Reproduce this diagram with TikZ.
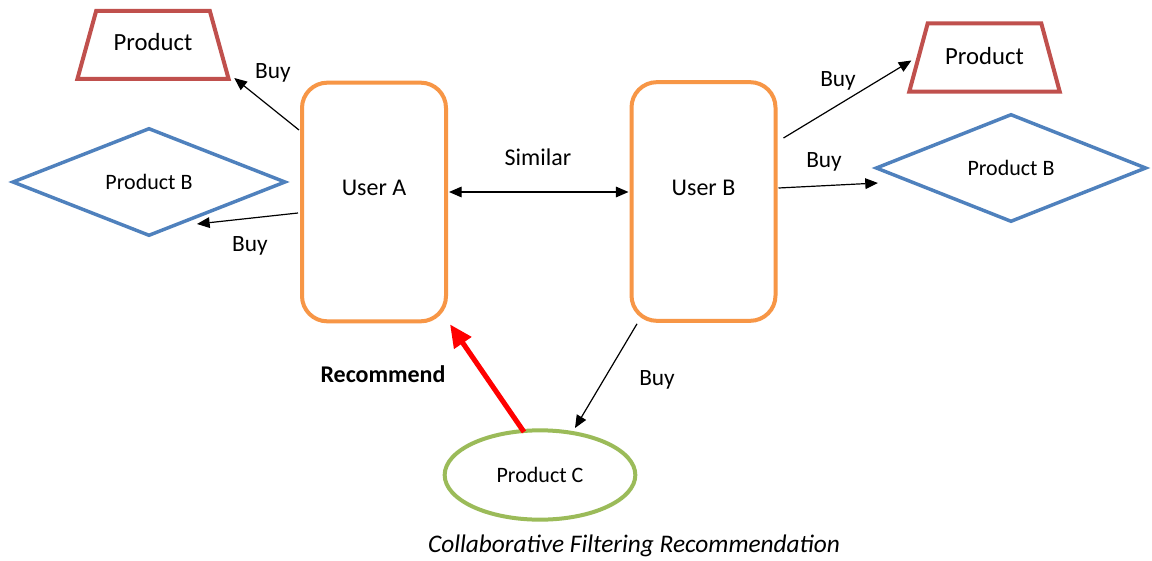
\documentclass[tikz,border=0pt]{standalone}
\usepackage{fontspec}
\setmainfont{Carlito}
\usetikzlibrary{shapes.geometric,arrows.meta,calc}
\definecolor{prodred}{HTML}{C0504D}
\definecolor{prodblue}{HTML}{4F81BD}
\definecolor{userorange}{HTML}{F79646}
\definecolor{prodgreen}{HTML}{9BBB59}
\begin{document}
\begin{tikzpicture}[x=0.75pt,y=-0.75pt,
  userbox/.style={draw=userorange, line width=3pt, rounded corners=19pt,
    minimum width=108pt, minimum height=179pt, inner sep=0pt, text depth=21pt,
    font=\fontsize{18}{21}\selectfont},
  trapbox/.style={trapezium, draw=prodred, line width=3pt, trapezium stretches=true,
    inner sep=0pt, font=\fontsize{18.5}{21}\selectfont},
  diabox/.style={diamond, draw=prodblue, line width=2.6pt, inner sep=0pt,
    minimum height=81pt, font=\fontsize{16.5}{19}\selectfont},
  ovalbox/.style={ellipse, draw=prodgreen, line width=3pt, inner sep=0pt,
    minimum width=143pt, minimum height=67pt, font=\fontsize{16.5}{19}\selectfont},
  buy/.style={-{Triangle[length=9.5pt,width=8pt]}, line width=0.9pt, black},
  lbl/.style={font=\fontsize{17.5}{20}\selectfont, inner sep=0pt},
  recarrow/.style={-{Triangle[length=17pt,width=15pt]}, line width=3.8pt, red}]

\useasboundingbox (0,0) rectangle (1152,560);
\fill[white] (0,0) rectangle (1152,560);

% users
\node[userbox] (ua) at (374,202) {User A};
\node[userbox] (ub) at (703.5,201.5) {User B};

% products
\node[trapbox, minimum width=114pt, minimum height=51pt, trapezium angle=60, text depth=4pt] (tl) at (153,45) {Product};
\node[trapbox, minimum width=113pt, minimum height=51pt, trapezium angle=59, text depth=3pt] (tr) at (984.5,57.5) {Product};
\node[diabox, minimum width=205pt] (lb) at (149,182) {Product B};
\node[diabox, minimum width=203pt] (rb) at (1011,168) {Product B};
\node[ovalbox] (pc) at (540,475) {Product C};

% purchases and similarity
\draw[buy] ($(ua.west)+(-1,-72)$) -- ($(tl.bottom right corner)+(3,-3)$);
\draw[buy] ($(ua.west)+(-2,11)$) -- ($(lb.center)+(48,42)$);
\draw[{Triangle[length=9.5pt,width=8pt]}-{Triangle[length=9.5pt,width=8pt]}, line width=0.9pt]
  ($(ua.east)+(1,-10)$) -- ($(ub.west)+(-1,-9.5)$);
\draw[buy] ($(ub.east)+(6,-63.5)$) -- ($(tr.west)+(-5,3)$);
\draw[buy] ($(ub.east)+(1,-13.5)$) -- ($(rb.west)+(4,15)$);
\draw[buy] ($(ub.south)+(-66.5,1)$) -- ($(pc.center)+(35,-47)$);

% recommendation
\draw[recarrow] ($(pc.center)+(-16,-43)$) -- ($(ua.south east)+(2,1)$);

% labels
\node[lbl] (b1) at (273,73) {Buy};
\node[lbl] (b2) at (250,246) {Buy};
\node[lbl, font=\fontsize{18}{21}\selectfont] (sim) at (538,157) {Similar};
\node[lbl] (b3) at (838,81) {Buy};
\node[lbl] (b4) at (824,162) {Buy};
\node[lbl] (b5) at (657,380) {Buy};
\node[lbl, font=\fontsize{18}{21}\bfseries\selectfont] (rec) at (383,374) {Recommend};
\node[lbl, font=\fontsize{19}{22}\itshape\selectfont] (cap) at (634,546) {Collaborative Filtering Recommendation};
\end{tikzpicture}
\end{document}
